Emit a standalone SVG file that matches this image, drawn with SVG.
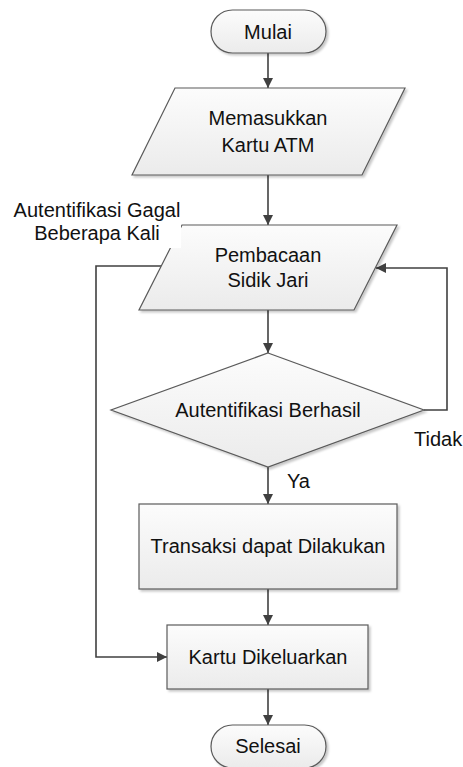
<svg xmlns="http://www.w3.org/2000/svg" width="463" height="767" viewBox="0 0 463 767">
<style>
.shape{fill:url(#g);stroke:#5a5a5a;stroke-width:1.2;filter:url(#sh)}
.t{font-family:"Liberation Sans",Arial,sans-serif;font-size:20px;fill:#111;text-anchor:middle}
.l{font-family:"Liberation Sans",Arial,sans-serif;font-size:20px;fill:#111}
.c{fill:none;stroke:#404040;stroke-width:1.6;marker-end:url(#ah)}
.c2{fill:none;stroke:#404040;stroke-width:1.6}
</style>
<defs>
<linearGradient id="g" x1="0" y1="0" x2="0" y2="1">
<stop offset="0" stop-color="#fcfcfc"/>
<stop offset="1" stop-color="#ebebeb"/>
</linearGradient>
<filter id="sh" x="-10%" y="-10%" width="130%" height="130%">
<feDropShadow dx="2" dy="2" stdDeviation="1" flood-color="#000" flood-opacity="0.22"/>
</filter>
<marker id="ah" markerWidth="10" markerHeight="10" viewBox="0 0 10 10" refX="10" refY="5" orient="auto" markerUnits="userSpaceOnUse">
<path d="M0,0 L10,5 L0,10 Z" fill="#404040"/>
</marker>
</defs>
<g id="connectors">
<path class="c" d="M268,53 V88"/>
<path class="c" d="M268,175 V225"/>
<path class="c" d="M268,310 V353"/>
<path class="c" d="M268,467 V504"/>
<path class="c" d="M268,589 V625"/>
<path class="c" d="M268,689 V725"/>
<path class="c" d="M161,266 H96 V657 H167"/>
<path class="c" d="M424,410 H447 V268 H376"/>
</g>
<g id="mulai">
<rect class="shape" x="211" y="10" width="115" height="43" rx="21.5" ry="21.5"/>
<text class="t" x="268" y="38.5">Mulai</text>
</g>
<g id="memasukkan">
<polygon class="shape" points="175,88 405,88 362,175 132,175"/>
<text class="t" x="268" y="125">Memasukkan</text>
<text class="t" x="268" y="152">Kartu ATM</text>
</g>
<g id="pembacaan">
<polygon class="shape" points="182,225 397,225 354,310 139,310"/>
<text class="t" x="268" y="262">Pembacaan</text>
<text class="t" x="268" y="287">Sidik Jari</text>
</g>
<g id="label-gagal">
<rect x="0" y="196" width="181" height="52" fill="#fff"/>
<text class="t" x="97" y="217">Autentifikasi Gagal</text>
<text class="t" x="97" y="240">Beberapa Kali</text>
</g>
<g id="autentifikasi">
<polygon class="shape" points="268,353 424,410 268,467 111,410"/>
<text class="t" x="268" y="417">Autentifikasi Berhasil</text>
</g>
<g id="label-tidak">
<text class="l" x="414" y="446">Tidak</text>
</g>
<g id="label-ya">
<text class="l" x="287" y="488">Ya</text>
</g>
<g id="transaksi">
<rect class="shape" x="139" y="504" width="258" height="85"/>
<text class="t" x="268" y="553">Transaksi dapat Dilakukan</text>
</g>
<g id="kartu">
<rect class="shape" x="167" y="625" width="201" height="64"/>
<text class="t" x="268" y="664">Kartu Dikeluarkan</text>
</g>
<g id="selesai">
<rect class="shape" x="211" y="725" width="115" height="43" rx="21.5" ry="21.5"/>
<text class="t" x="268" y="753">Selesai</text>
</g>
</svg>
